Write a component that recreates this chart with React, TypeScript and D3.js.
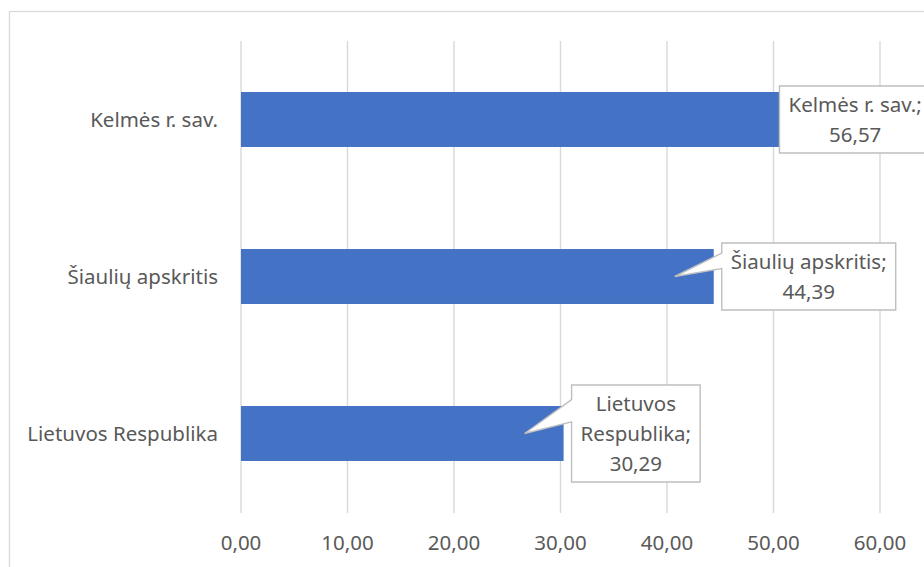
import React, { useEffect, useRef } from 'react';
import * as d3 from 'd3';

// categories from top to bottom, as drawn
const categories: string[] = ['Kelmės r. sav.', 'Šiaulių apskritis', 'Lietuvos Respublika'];
const values: number[] = [56.57, 44.39, 30.29];
const xTicks: number[] = [0, 10, 20, 30, 40, 50, 60];

// callout text lines per bar (label; value)
const calloutLines: string[][] = [['Kelmės r. sav.;', '56,57'], ['Šiaulių apskritis;', '44,39'], ['Lietuvos', 'Respublika;', '30,29']];

const W = 924;
const H = 567;
const margin = { top: 41, right: 44, bottom: 55, left: 241 };
const FONT = '"Noto Sans", "Open Sans", sans-serif';
const textCol = '#595959';
const gridCol = '#d9d9d9';
const barCol = '#4472c4';

const locale = d3.formatLocale({ decimal: ',', thousands: ' ', grouping: [3], currency: ['', ''] });
const fmt = locale.format('.2f');

const App: React.FC = () => {
	const ref = useRef<SVGGElement>(null);

	useEffect(() => {
		const g = d3.select(ref.current);
		g.selectAll('*').remove();

		const innerH = H - margin.top - margin.bottom;
		const x = d3.scaleLinear().domain([0, 60]).range([margin.left, W - margin.right]);
		const y = d3
			.scaleBand<string>()
			.domain(categories)
			.range([margin.top, margin.top + innerH])
			.paddingInner(0.65)
			.paddingOuter(0.325);

		// outer chart border (runs off the right and bottom edges)
		g.append('rect')
			.attr('x', 9.5)
			.attr('y', 11.5)
			.attr('width', W + 20)
			.attr('height', H + 20)
			.attr('fill', 'white')
			.attr('stroke', gridCol)
			.attr('stroke-width', 1.3);

		// vertical grid
		g.append('g')
			.selectAll('line')
			.data(xTicks)
			.join('line')
			.attr('x1', (d) => x(d))
			.attr('x2', (d) => x(d))
			.attr('y1', margin.top)
			.attr('y2', margin.top + innerH + 1)
			.attr('stroke', gridCol)
			.attr('stroke-width', 1.4);

		// tick labels
		g.append('g')
			.selectAll('text')
			.data(xTicks)
			.join('text')
			.attr('x', (d) => x(d))
			.attr('y', 550)
			.attr('text-anchor', 'middle')
			.attr('font-family', FONT)
			.attr('font-size', 20.5)
			.attr('fill', textCol)
			.text((d) => fmt(d));

		// category labels
		g.append('g')
			.selectAll('text')
			.data(categories)
			.join('text')
			.attr('x', x(0) - 23)
			.attr('y', (d) => (y(d) as number) + y.bandwidth() / 2)
			.attr('dy', '0.35em')
			.attr('text-anchor', 'end')
			.attr('font-family', FONT)
			.attr('font-size', 20.5)
			.attr('fill', textCol)
			.text((d) => d);

		// bars
		g.append('g')
			.selectAll('rect')
			.data(categories)
			.join('rect')
			.attr('x', x(0))
			.attr('y', (d) => y(d) as number)
			.attr('width', (d, i) => x(values[i]) - x(0))
			.attr('height', y.bandwidth())
			.attr('fill', barCol);

		// callouts
		const lineH = 30;
		categories.forEach((c, i) => {
			const lines = calloutLines[i];
			const cy = (y(c) as number) + y.bandwidth() / 2;
			const cg = g.append('g');
			const txt = cg
				.append('text')
				.attr('font-family', FONT)
				.attr('font-size', 20.5)
				.attr('fill', textCol)
				.attr('text-anchor', 'middle');
			lines.forEach((l) => txt.append('tspan').text(l));
			let tw = 0;
			txt.selectAll<SVGTSpanElement, unknown>('tspan').each(function () {
				tw = Math.max(tw, this.getComputedTextLength());
			});
			const bw = tw + 18;
			const bh = lines.length * lineH + 7;
			const end = x(values[i]);
			// Kelmės label is pushed left by Excel since it does not fit
			let left = end + 8;
			if (left + bw > W - 5) left = end - 64;
			const top = cy - bh / 2;
			const tipX = end - 39;
			const showTip = tipX < left;
			const b1 = top + bh * 0.15;
			const b2 = top + bh * 0.38;
			const path = showTip
				? `M${left},${top}H${left + bw}V${top + bh}H${left}V${b2}L${tipX},${cy}L${left},${b1}Z`
				: `M${left},${top}H${left + bw}V${top + bh}H${left}Z`;
			cg.insert('path', 'text')
				.attr('d', path)
				.attr('fill', 'white')
				.attr('stroke', '#bfbfbf')
				.attr('stroke-width', 1.4);
			const cx = left + bw / 2;
			txt.selectAll('tspan')
				.attr('x', cx)
				.attr('y', (d, k) => top + 3.5 + lineH * k + lineH / 2)
				.attr('dy', '0.35em');
		});
	}, []);

	return (
		<svg width={W} height={H} style={{ position: 'absolute', left: 0, top: 0, display: 'block' }}>
			<g ref={ref} />
		</svg>
	);
};

export default App;
